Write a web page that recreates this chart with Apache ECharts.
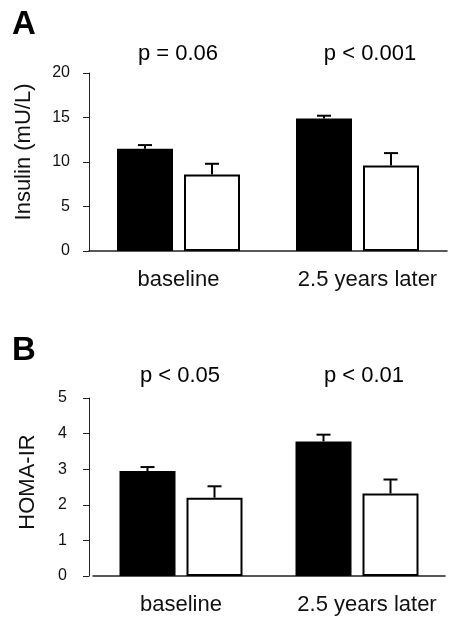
<!DOCTYPE html>
<html>
<head>
<meta charset="utf-8">
<script src="https://cdn.jsdelivr.net/npm/echarts@6/dist/echarts.min.js"></script>
<style>
  html, body { margin: 0; padding: 0; background: #fff; }
  #chart { width: 455px; height: 618px; }
</style>
</head>
<body>
<div id="chart"></div>
<script>
// ---- data ----
const categories = ['baseline', '2.5 years later'];
const seriesNames = ['Filled group', 'Open group'];

const insulinFilled = [11.5, 14.9];
const insulinFilledSE = [0.4, 0.3];
const insulinOpen = [8.6, 9.6];
const insulinOpenSE = [1.2, 1.4];

const homaFilled = [2.95, 3.78];
const homaFilledSE = [0.11, 0.19];
const homaOpen = [2.2, 2.32];
const homaOpenSE = [0.32, 0.39];

const insulinTicks = { min: 0, max: 20, interval: 5 };
const homaTicks = { min: 0, max: 5, interval: 1 };

const panelLetters = ['A', 'B'];
const insulinPValues = ['p = 0.06', 'p < 0.001'];
const homaPValues = ['p < 0.05', 'p < 0.01'];

const yTitles = ['Insulin (mU/L)', 'HOMA-IR'];

// ---- styling ----
const FONT = 'Liberation Sans, Arial, Helvetica, sans-serif';
const BAR_W = 56;
const BAR_GAP = 11;
const OFFSET = (BAR_W + BAR_GAP) / 2;

function catItems() {
  return categories.map((c, i) => ({
    value: c,
    textStyle: i === 1 ? { padding: [0, 0, 0, 20] } : {}
  }));
}

function xAxisFor(gi) {
  return {
    type: 'category', gridIndex: gi, data: catItems(),
    axisTick: { show: false },
    axisLine: { lineStyle: { color: '#222', width: 1.5 } },
    axisLabel: { interval: 0, hideOverlap: false, margin: 18, fontSize: 22, color: '#111', fontFamily: FONT }
  };
}

function yAxisFor(gi, t, name, gap, labelMargin, offset, pad) {
  return {
    type: 'value', gridIndex: gi, min: t.min, max: t.max, interval: t.interval,
    offset: offset,
    axisLine: { show: true, lineStyle: { color: '#222', width: 1 } },
    axisTick: { show: true, length: 6, lineStyle: { color: '#222', width: 1 } },
    splitLine: { show: false },
    axisLabel: { fontSize: 16, color: '#111', margin: labelMargin, fontFamily: FONT },
    name: name, nameLocation: 'middle', nameRotate: 90, nameGap: gap,
    nameTextStyle: { fontSize: 22, color: '#111', fontFamily: FONT, padding: pad }
  };
}

function barSeries(gi, name, values, filled) {
  return {
    type: 'bar', name: name, xAxisIndex: gi, yAxisIndex: gi,
    data: values, barWidth: BAR_W, barGap: (BAR_GAP / BAR_W * 100) + '%',
    itemStyle: filled
      ? { color: '#000', borderColor: '#000', borderWidth: 0 }
      : { color: '#fff', borderColor: '#000', borderWidth: 2 },
    animation: false, silent: true
  };
}

function errSeries(gi, values, se, dx) {
  return {
    type: 'custom', xAxisIndex: gi, yAxisIndex: gi, z: 5,
    data: values.map((v, i) => [i, v, se[i]]),
    renderItem: function (params, api) {
      const cat = api.value(0);
      const v = api.value(1);
      const e = api.value(2);
      const base = api.coord([cat, v]);
      const top = api.coord([cat, v + e]);
      const x = base[0] + dx;
      const style = { stroke: '#000', lineWidth: 2 };
      return {
        type: 'group',
        children: [
          { type: 'line', shape: { x1: x, y1: base[1], x2: x, y2: top[1] }, style: style },
          { type: 'line', shape: { x1: x - 7, y1: top[1], x2: x + 7, y2: top[1] }, style: style }
        ]
      };
    },
    animation: false, silent: true
  };
}

function text(str, x, y, size, bold, align) {
  return {
    type: 'text', x: x, y: y,
    style: {
      text: str, fill: '#000',
      font: (bold ? 'bold ' : '') + size + 'px ' + FONT,
      align: align || 'left', verticalAlign: 'middle'
    }
  };
}

const chart = echarts.init(document.getElementById('chart'), null, { renderer: 'canvas' });
chart.setOption({
  backgroundColor: '#fff',
  animation: false,
  grid: [
    { left: 89, right: 8, top: 73, height: 178 },
    { left: 93, right: 10, top: 398, height: 178 }
  ],
  xAxis: [xAxisFor(0), xAxisFor(1)],
  yAxis: [
    yAxisFor(0, insulinTicks, yTitles[0], 54, 19, 0, [0, 0, 0, 20]),
    yAxisFor(1, homaTicks, yTitles[1], 50, 22, 4, [0, 0, 0, 10])
  ],
  series: [
    barSeries(0, seriesNames[0], insulinFilled, true),
    barSeries(0, seriesNames[1], insulinOpen, false),
    errSeries(0, insulinFilled, insulinFilledSE, -OFFSET),
    errSeries(0, insulinOpen, insulinOpenSE, OFFSET),
    barSeries(1, seriesNames[0], homaFilled, true),
    barSeries(1, seriesNames[1], homaOpen, false),
    errSeries(1, homaFilled, homaFilledSE, -OFFSET),
    errSeries(1, homaOpen, homaOpenSE, OFFSET)
  ],
  graphic: [
    text(panelLetters[0], 12, 25, 33, true),
    text(panelLetters[1], 12, 351, 33, true),
    text(insulinPValues[0], 178, 54, 22, false, 'center'),
    text(insulinPValues[1], 370, 54, 22, false, 'center'),
    text(homaPValues[0], 180, 376, 22, false, 'center'),
    text(homaPValues[1], 364, 376, 22, false, 'center')
  ]
});
</script>
</body>
</html>
